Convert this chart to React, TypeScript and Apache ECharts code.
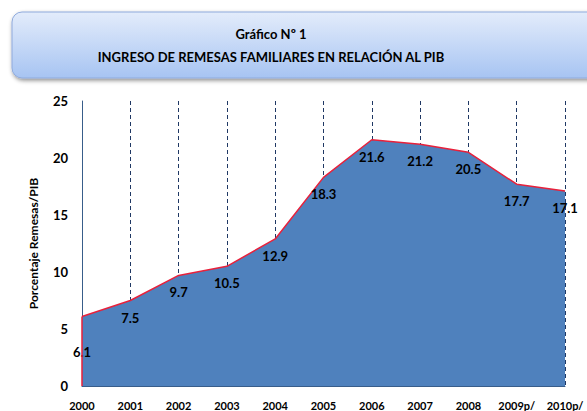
import React, { useEffect, useRef } from "react";
import * as echarts from "echarts";

const categories = ["2000", "2001", "2002", "2003", "2004", "2005", "2006", "2007", "2008", "2009p/", "2010p/"];
const values = [6.1, 7.5, 9.7, 10.5, 12.9, 18.3, 21.6, 21.2, 20.5, 17.7, 17.1];
const yTicks = { min: 0, max: 25, interval: 5 };
const titleLine1 = "Gráfico Nº 1";
const titleLine2 = "INGRESO DE REMESAS FAMILIARES EN RELACIÓN AL PIB";
const yName = "Porcentaje Remesas/PIB";

const FONT = "Lato, 'Open Sans', sans-serif";

export default function App() {
  const ref = useRef<HTMLDivElement>(null);
  useEffect(() => {
    if (!ref.current) return;
    const chart = echarts.init(ref.current, null, { renderer: "svg" });
    const data = values.map((v, i) =>
      i === 0
        ? { value: v, label: { distance: 29 } }
        : { value: v }
    );
    chart.setOption({
      animation: false,
      backgroundColor: "#ffffff",
      grid: { left: 82, right: 22, top: 101, bottom: 25, containLabel: false },
      graphic: [
        {
          type: "rect",
          z: -10,
          shape: { x: 12, y: 12, width: 600, height: 66, r: 10 },
          style: {
            fill: new echarts.graphic.LinearGradient(0, 0, 0, 1, [
              { offset: 0, color: "#e3ecfb" },
              { offset: 1, color: "#a7c4f2" },
            ]),
            stroke: "#8faadc",
            lineWidth: 1,
            shadowBlur: 4,
            shadowOffsetX: 1,
            shadowOffsetY: 2,
            shadowColor: "rgba(0,0,0,0.45)",
          },
        },
        {
          type: "text",
          x: 271,
          y: 34,
          style: {
            text: titleLine1,
            fill: "#000",
            font: `bold 13px ${FONT}`,
            textAlign: "center",
            textVerticalAlign: "middle",
          },
        },
        {
          type: "text",
          x: 271,
          y: 57,
          style: {
            text: titleLine2,
            fill: "#000",
            font: `bold 13px ${FONT}`,
            textAlign: "center",
            textVerticalAlign: "middle",
          },
        },
      ],
      xAxis: {
        type: "category",
        data: categories,
        boundaryGap: false,
        axisLine: { show: true, lineStyle: { color: "#385d8a", width: 1 } },
        axisTick: { show: false },
        axisLabel: {
          color: "#000",
          fontFamily: FONT,
          fontWeight: "bold",
          fontSize: 11,
          margin: 14,
          interval: 0,
        },
        splitLine: {
          show: true,
          lineStyle: { color: "#1f3864", type: [4, 3], width: 1 },
        },
      },
      yAxis: {
        type: "value",
        min: yTicks.min,
        max: yTicks.max,
        interval: yTicks.interval,
        name: yName,
        nameLocation: "middle",
        nameGap: 43,
        nameRotate: 90,
        nameTextStyle: { color: "#000", fontFamily: FONT, fontWeight: "bold", fontSize: 12 },
        axisLine: { show: true, lineStyle: { color: "#385d8a", width: 1 } },
        axisTick: { show: false },
        splitLine: { show: false },
        axisLabel: {
          color: "#000",
          fontFamily: FONT,
          fontWeight: "bold",
          fontSize: 13,
          margin: 14,
        },
      },
      series: [
        {
          type: "line",
          data,
          symbol: "circle",
          symbolSize: 1,
          showSymbol: true,
          itemStyle: { color: "rgba(0,0,0,0)" },
          lineStyle: { color: "#e8213b", width: 1.5 },
          areaStyle: { color: "#4f81bd", opacity: 1 },
          label: {
            show: true,
            position: "bottom",
            distance: 10,
            color: "#000",
            fontFamily: FONT,
            fontWeight: "bold",
            fontSize: 13,
            formatter: (p: any) => Number(p.value).toFixed(1),
          },
          markLine: {
            silent: true,
            symbol: "none",
            label: { show: false },
            lineStyle: { color: "#e8213b", width: 1.5, type: "solid" },
            data: [[{ coord: [0, 0] }, { coord: [0, values[0]] }]],
          },
        },
      ],
    });
    return () => chart.dispose();
  }, []);
  return <div ref={ref} style={{ width: 587, height: 411, position: "absolute", left: 0, top: 0 }} />;
}
